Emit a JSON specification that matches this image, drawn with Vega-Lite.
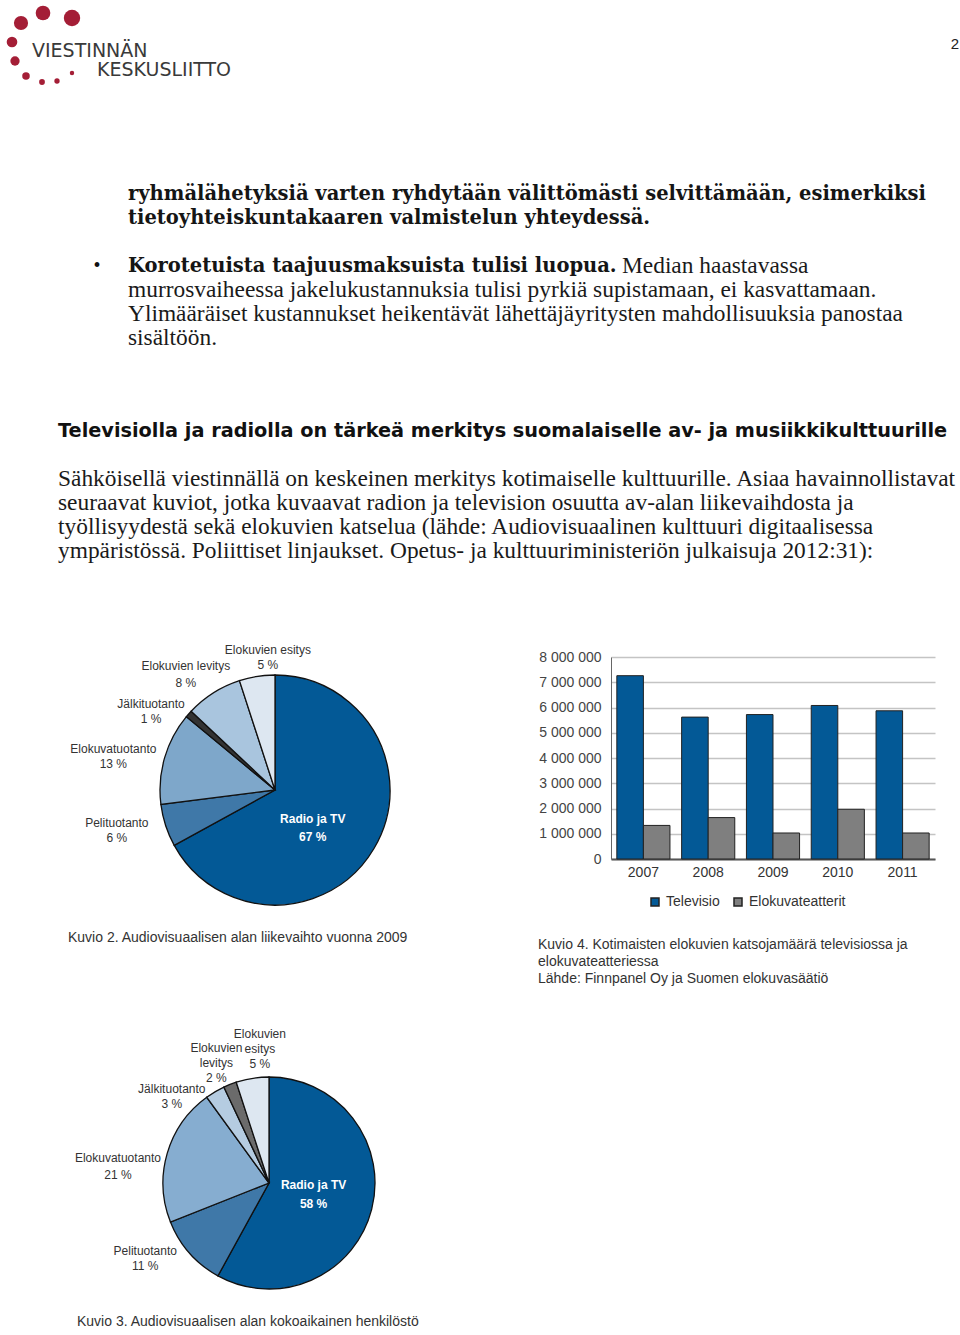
{
  "$schema": "https://vega.github.io/schema/vega-lite/v6.json",
  "padding": 0,
  "columns": 2,
  "align": "each",
  "spacing": {"row": 0, "column": 61},
  "bounds": "flush",
  "background": "white",
  "config": {
    "view": {"stroke": null},
    "font": "Liberation Sans",
    "title": {"font": "Liberation Sans", "fontWeight": "normal", "fontSize": 14, "color": "#333"}
  },
  "resolve": {"scale": {"x": "independent", "y": "independent", "color": "independent", "theta": "independent", "size": "independent"}, "legend": {"color": "independent", "size": "independent"}},
  "datasets": {
    "logo_dots": [
      {"lx": 43, "ly": 13, "d": 16.5},
      {"lx": 72, "ly": 18, "d": 18.5},
      {"lx": 21, "ly": 23, "d": 16},
      {"lx": 12, "ly": 42, "d": 12},
      {"lx": 15, "ly": 61, "d": 10.5},
      {"lx": 26, "ly": 76, "d": 8.5},
      {"lx": 42, "ly": 82, "d": 6.5},
      {"lx": 57, "ly": 81, "d": 6},
      {"lx": 72, "ly": 73, "d": 5}
    ],
    "header_text": [
      {"lx": 32, "ly": 57, "text": "VIESTINNÄN", "kind": "logo"},
      {"lx": 97, "ly": 76, "text": "KESKUSLIITTO", "kind": "logo"},
      {"lx": 955, "ly": 44, "text": "2", "kind": "page"}
    ],
    "page_text": [
      {"block": "A", "line": 1, "col": 2, "kind": "strong", "text": "ryhmälähetyksiä varten ryhdytään välittömästi selvittämään, esimerkiksi"},
      {"block": "A", "line": 2, "col": 2, "kind": "strong", "text": "tietoyhteiskuntakaaren valmistelun yhteydessä."},
      {"block": "A", "line": 4, "col": 1, "kind": "bullet", "text": "•"},
      {"block": "A", "line": 4, "col": 2, "kind": "strong", "text": "Korotetuista taajuusmaksuista tulisi luopua."},
      {"block": "A", "line": 4, "col": 3, "kind": "body", "text": "Median haastavassa"},
      {"block": "A", "line": 5, "col": 2, "kind": "body", "text": "murrosvaiheessa jakelukustannuksia tulisi pyrkiä supistamaan, ei kasvattamaan."},
      {"block": "A", "line": 6, "col": 2, "kind": "body", "text": "Ylimääräiset kustannukset heikentävät lähettäjäyritysten mahdollisuuksia panostaa"},
      {"block": "A", "line": 7, "col": 2, "kind": "body", "text": "sisältöön."},
      {"block": "B", "line": 0, "col": 0, "kind": "heading", "text": "Televisiolla ja radiolla on tärkeä merkitys suomalaiselle av- ja musiikkikulttuurille"},
      {"block": "B", "line": 2, "col": 0, "kind": "body", "text": "Sähköisellä viestinnällä on keskeinen merkitys kotimaiselle kulttuurille. Asiaa havainnollistavat"},
      {"block": "B", "line": 3, "col": 0, "kind": "body", "text": "seuraavat kuviot, jotka kuvaavat radion ja television osuutta av-alan liikevaihdosta ja"},
      {"block": "B", "line": 4, "col": 0, "kind": "body", "text": "työllisyydestä sekä elokuvien katselua (lähde: Audiovisuaalinen kulttuuri digitaalisessa"},
      {"block": "B", "line": 5, "col": 0, "kind": "body", "text": "ympäristössä. Poliittiset linjaukset. Opetus- ja kulttuuriministeriön julkaisuja 2012:31):"}
    ],
    "turnover": [
      {"segment": "Radio ja TV", "share": 67, "rank": 1, "label": ["Radio ja TV", "67 %"]},
      {"segment": "Pelituotanto", "share": 6, "rank": 2, "label": ["Pelituotanto", "6 %"]},
      {"segment": "Elokuvatuotanto", "share": 13, "rank": 3, "label": ["Elokuvatuotanto", "13 %"]},
      {"segment": "Jälkituotanto", "share": 1, "rank": 4, "label": ["Jälkituotanto", "1 %"]},
      {"segment": "Elokuvien levitys", "share": 8, "rank": 5, "label": ["Elokuvien levitys", "8 %"]},
      {"segment": "Elokuvien esitys", "share": 5, "rank": 6, "label": ["Elokuvien esitys", "5 %"]}
    ],
    "staff": [
      {"segment": "Radio ja TV", "share": 58, "rank": 1, "label": ["Radio ja TV", "58 %"]},
      {"segment": "Pelituotanto", "share": 11, "rank": 2, "label": ["Pelituotanto", "11 %"]},
      {"segment": "Elokuvatuotanto", "share": 21, "rank": 3, "label": ["Elokuvatuotanto", "21 %"]},
      {"segment": "Jälkituotanto", "share": 3, "rank": 4, "label": ["Jälkituotanto", "3 %"]},
      {"segment": "Elokuvien levitys", "share": 2, "rank": 5, "label": ["Elokuvien", "levitys", "2 %"]},
      {"segment": "Elokuvien esitys", "share": 5, "rank": 6, "label": ["Elokuvien", "esitys", "5 %"]}
    ],
    "viewers": [
      {"year": "2007", "series": "Televisio", "viewers": 7260000},
      {"year": "2007", "series": "Elokuvateatterit", "viewers": 1330000},
      {"year": "2008", "series": "Televisio", "viewers": 5620000},
      {"year": "2008", "series": "Elokuvateatterit", "viewers": 1640000},
      {"year": "2009", "series": "Televisio", "viewers": 5720000},
      {"year": "2009", "series": "Elokuvateatterit", "viewers": 1030000},
      {"year": "2010", "series": "Televisio", "viewers": 6080000},
      {"year": "2010", "series": "Elokuvateatterit", "viewers": 1970000},
      {"year": "2011", "series": "Televisio", "viewers": 5870000},
      {"year": "2011", "series": "Elokuvateatterit", "viewers": 1030000}
    ]
  },
  "concat": [
    {
      "width": 550,
      "height": 150,
      "layer": [
        {
          "data": {"name": "logo_dots"},
          "mark": {"type": "circle", "color": "#a41e36", "opacity": 1},
          "encoding": {
            "x": {"field": "lx", "type": "quantitative", "scale": {"domain": [0, 550], "nice": false}, "axis": null},
            "y": {"field": "ly", "type": "quantitative", "scale": {"domain": [0, 150], "nice": false, "reverse": true}, "axis": null},
            "size": {"field": "d", "type": "quantitative", "scale": {"type": "pow", "exponent": 2, "domain": [0, 20], "range": [0, 314]}, "legend": null}
          }
        },
        {
          "data": {"name": "header_text"},
          "transform": [{"filter": "datum.kind === 'logo'"}],
          "mark": {"type": "text", "align": "left", "baseline": "alphabetic", "font": "DejaVu Sans", "fontSize": 19, "color": "#3a3a3a"},
          "encoding": {
            "x": {"field": "lx", "type": "quantitative"},
            "y": {"field": "ly", "type": "quantitative"},
            "text": {"field": "text"}
          }
        },
        {
          "data": {"name": "header_text"},
          "transform": [{"filter": "datum.kind === 'page'"}],
          "mark": {"type": "text", "align": "center", "baseline": "middle", "font": "Liberation Sans", "fontSize": 15, "color": "#222"},
          "encoding": {
            "x": {"field": "lx", "type": "quantitative"},
            "y": {"field": "ly", "type": "quantitative"},
            "text": {"field": "text"}
          }
        }
      ]
    },
    {"width": 1, "height": 1, "data": {"values": []}, "mark": "point"},
    {
      "width": 550,
      "height": 220,
      "data": {"name": "page_text"},
      "transform": [{"filter": "datum.block === 'A'"}],
      "encoding": {
        "x": {"field": "col", "type": "quantitative", "scale": {"domain": [0, 1, 2, 3], "range": [58, 97, 128, 622], "nice": false, "zero": false}, "axis": null},
        "y": {"field": "line", "type": "quantitative", "scale": {"domain": [-0.8333, 8.3333], "nice": false, "zero": false, "reverse": true}, "axis": null},
        "text": {"field": "text"}
      },
      "layer": [
        {"transform": [{"filter": "datum.kind === 'strong'"}], "mark": {"type": "text", "align": "left", "baseline": "middle", "font": "DejaVu Serif", "fontWeight": "bold", "fontSize": 19.5, "color": "#151515"}},
        {"transform": [{"filter": "datum.kind === 'body'"}], "mark": {"type": "text", "align": "left", "baseline": "middle", "font": "Liberation Serif", "fontSize": 23.4, "color": "#1a1a1a"}},
        {"transform": [{"filter": "datum.kind === 'bullet'"}], "mark": {"type": "text", "align": "center", "baseline": "middle", "font": "Liberation Serif", "fontSize": 20, "color": "#111"}}
      ]
    },
    {"width": 1, "height": 1, "data": {"values": []}, "mark": "point"},
    {
      "width": 550,
      "height": 287,
      "data": {"name": "page_text"},
      "transform": [{"filter": "datum.block === 'B'"}],
      "encoding": {
        "x": {"field": "col", "type": "quantitative", "scale": {"domain": [0, 1, 2, 3], "range": [58, 97, 128, 622], "nice": false, "zero": false}, "axis": null},
        "y": {"field": "line", "type": "quantitative", "scale": {"domain": [-2.5417, 9.4167], "nice": false, "zero": false, "reverse": true}, "axis": null},
        "text": {"field": "text"}
      },
      "layer": [
        {"transform": [{"filter": "datum.kind === 'heading'"}], "mark": {"type": "text", "align": "left", "baseline": "middle", "font": "DejaVu Sans", "fontWeight": "bold", "fontSize": 19.3, "color": "#111"}},
        {"transform": [{"filter": "datum.kind === 'body'"}], "mark": {"type": "text", "align": "left", "baseline": "middle", "font": "Liberation Serif", "fontSize": 23.4, "color": "#1a1a1a"}}
      ]
    },
    {"width": 1, "height": 1, "data": {"values": []}, "mark": "point"},
    {
      "width": 550,
      "height": 266,
      "data": {"name": "turnover"},
      "title": {"text": "Kuvio 2. Audiovisuaalisen alan liikevaihto vuonna 2009", "orient": "bottom", "anchor": "start", "frame": "group", "dx": 68, "offset": 8},
      "encoding": {
        "theta": {"field": "share", "type": "quantitative", "stack": true},
        "order": {"field": "rank", "type": "quantitative"},
        "detail": {"field": "segment"}
      },
      "layer": [
        {
          "mark": {"type": "arc", "outerRadius": 115, "stroke": "#111", "strokeWidth": 1.3},
          "encoding": {
            "color": {"field": "segment", "type": "nominal", "scale": {"domain": ["Radio ja TV", "Pelituotanto", "Elokuvatuotanto", "Jälkituotanto", "Elokuvien levitys", "Elokuvien esitys"], "range": ["#035996", "#3f78a8", "#7ea7ca", "#333333", "#a9c5de", "#dde7f1"]}, "legend": null}
          }
        },
        {
          "mark": {"type": "text", "radius": 52, "dx": -7, "dy": 3, "align": "center", "baseline": "middle", "fontSize": 12, "fontWeight": "bold", "lineHeight": 18, "color": "#ffffff"},
          "encoding": {"text": {"condition": {"test": "datum.rank === 1", "field": "label"}, "value": ""}}
        },
        {
          "mark": {"type": "text", "radius": 160, "dx": -6, "dy": -16, "align": "center", "baseline": "middle", "fontSize": 12, "lineHeight": 15, "color": "#333"},
          "encoding": {"text": {"condition": {"test": "datum.rank === 2", "field": "label"}, "value": ""}}
        },
        {
          "mark": {"type": "text", "radius": 160, "dx": -8, "dy": 4, "align": "center", "baseline": "middle", "fontSize": 12, "lineHeight": 15, "color": "#333"},
          "encoding": {"text": {"condition": {"test": "datum.rank === 3", "field": "label"}, "value": ""}}
        },
        {
          "mark": {"type": "text", "radius": 148, "dx": -13, "dy": 12, "align": "center", "baseline": "middle", "fontSize": 12, "lineHeight": 15, "color": "#333"},
          "encoding": {"text": {"condition": {"test": "datum.rank === 4", "field": "label"}, "value": ""}}
        },
        {
          "mark": {"type": "text", "radius": 144, "dx": -12, "dy": -2, "align": "center", "baseline": "middle", "fontSize": 12, "lineHeight": 17, "color": "#333"},
          "encoding": {"text": {"condition": {"test": "datum.rank === 5", "field": "label"}, "value": ""}}
        },
        {
          "mark": {"type": "text", "radius": 135, "dx": 14, "dy": -7, "align": "center", "baseline": "middle", "fontSize": 12, "lineHeight": 15, "color": "#333"},
          "encoding": {"text": {"condition": {"test": "datum.rank === 6", "field": "label"}, "value": ""}}
        }
      ]
    },
    {
      "width": 324,
      "height": 202,
      "data": {"name": "viewers"},
      "title": {"text": ["Kuvio 4. Kotimaisten elokuvien katsojamäärä televisiossa ja", "elokuvateatteriessa", "Lähde: Finnpanel Oy ja Suomen elokuvasäätiö"], "orient": "bottom", "anchor": "start", "frame": "group", "dx": -73, "offset": 29, "lineHeight": 17},
      "mark": {"type": "bar", "stroke": "#222", "strokeWidth": 1},
      "encoding": {
        "x": {"field": "year", "type": "nominal", "scale": {"paddingInner": 0.18, "paddingOuter": 0.09}, "axis": {"title": null, "labelAngle": 0, "labelFontSize": 14, "labelColor": "#333", "ticks": false, "domainColor": "#555", "domainWidth": 2, "labelPadding": 6}},
        "xOffset": {"field": "series", "type": "nominal", "scale": {"domain": ["Televisio", "Elokuvateatterit"], "paddingInner": 0}},
        "y": {"field": "viewers", "type": "quantitative", "scale": {"domain": [0, 8000000], "nice": false}, "axis": {"title": null, "values": [0, 1000000, 2000000, 3000000, 4000000, 5000000, 6000000, 7000000, 8000000], "labelExpr": "replace(format(datum.value, ','), regexp(',', 'g'), ' ')", "labelFontSize": 14, "labelColor": "#444", "ticks": false, "domainColor": "#666", "gridColor": "#c4c4c4", "gridWidth": 1.3, "labelPadding": 10}},
        "color": {"field": "series", "type": "nominal", "scale": {"domain": ["Televisio", "Elokuvateatterit"], "range": ["#035996", "#7f7f7f"]}, "legend": {"title": null, "orient": "none", "legendX": 37, "legendY": 238, "direction": "horizontal", "symbolType": "square", "symbolSize": 64, "labelFontSize": 14, "labelColor": "#333", "columnPadding": 11}}
      }
    },
    {"width": 10, "height": 108, "data": {"values": []}, "mark": "point"},
    {"width": 1, "height": 1, "data": {"values": []}, "mark": "point"},
    {
      "width": 538,
      "height": 304,
      "data": {"name": "staff"},
      "title": {"text": "Kuvio 3. Audiovisuaalisen alan kokoaikainen henkilöstö", "orient": "bottom", "anchor": "start", "frame": "group", "dx": 77, "offset": -20},
      "encoding": {
        "theta": {"field": "share", "type": "quantitative", "stack": true},
        "order": {"field": "rank", "type": "quantitative"},
        "detail": {"field": "segment"}
      },
      "layer": [
        {
          "mark": {"type": "arc", "outerRadius": 106, "stroke": "#111", "strokeWidth": 1.3},
          "encoding": {
            "color": {"field": "segment", "type": "nominal", "scale": {"domain": ["Radio ja TV", "Pelituotanto", "Elokuvatuotanto", "Jälkituotanto", "Elokuvien levitys", "Elokuvien esitys"], "range": ["#035996", "#3f78a8", "#86add0", "#b5cce1", "#6b6b6b", "#dde7f1"]}, "legend": null}
          }
        },
        {
          "mark": {"type": "text", "radius": 46, "dx": 0, "dy": -9, "align": "center", "baseline": "middle", "fontSize": 12, "fontWeight": "bold", "lineHeight": 19, "color": "#ffffff"},
          "encoding": {"text": {"condition": {"test": "datum.rank === 1", "field": "label"}, "value": ""}}
        },
        {
          "mark": {"type": "text", "radius": 145, "dx": -15, "dy": -28, "align": "center", "baseline": "middle", "fontSize": 12, "lineHeight": 15, "color": "#333"},
          "encoding": {"text": {"condition": {"test": "datum.rank === 2", "field": "label"}, "value": ""}}
        },
        {
          "mark": {"type": "text", "radius": 150, "dx": -7, "dy": 17, "align": "center", "baseline": "middle", "fontSize": 12, "lineHeight": 17, "color": "#333"},
          "encoding": {"text": {"condition": {"test": "datum.rank === 3", "field": "label"}, "value": ""}}
        },
        {
          "mark": {"type": "text", "radius": 132, "dx": -30, "dy": 19.5, "align": "center", "baseline": "middle", "fontSize": 12, "lineHeight": 15, "color": "#333"},
          "encoding": {"text": {"condition": {"test": "datum.rank === 4", "field": "label"}, "value": ""}}
        },
        {
          "mark": {"type": "text", "radius": 132, "dx": -4, "dy": -12.5, "align": "center", "baseline": "middle", "fontSize": 12, "lineHeight": 15, "color": "#333"},
          "encoding": {"text": {"condition": {"test": "datum.rank === 5", "field": "label"}, "value": ""}}
        },
        {
          "mark": {"type": "text", "radius": 135, "dx": 12, "dy": -16, "align": "center", "baseline": "middle", "fontSize": 12, "lineHeight": 15, "color": "#333"},
          "encoding": {"text": {"condition": {"test": "datum.rank === 6", "field": "label"}, "value": ""}}
        }
      ]
    },
    {"width": 1, "height": 1, "data": {"values": []}, "mark": "point"}
  ]
}
